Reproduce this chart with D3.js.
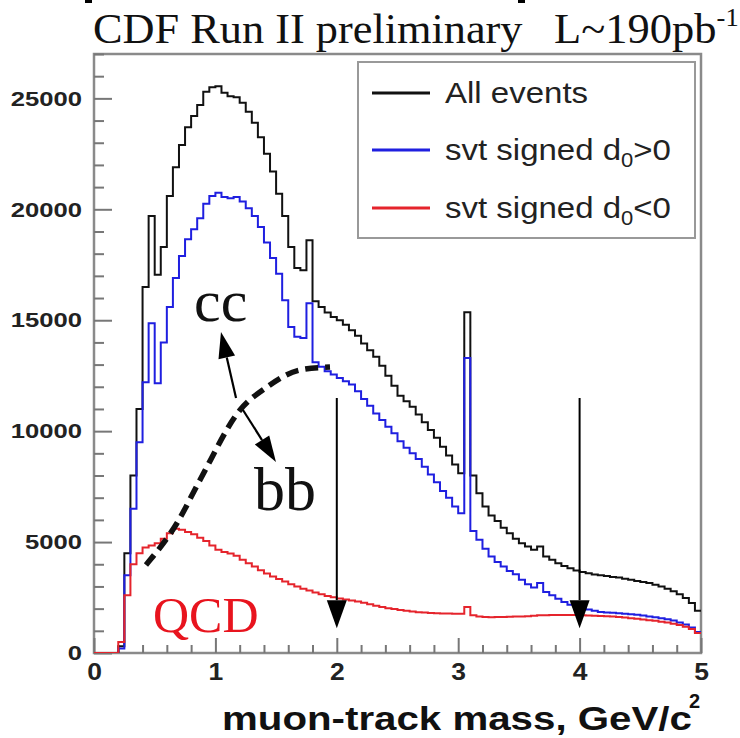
<!DOCTYPE html>
<html><head><meta charset="utf-8">
<script src="https://cdn.jsdelivr.net/npm/d3@7"></script>
<style>
html,body{margin:0;padding:0;background:#fff;}
svg{display:block;}
</style></head>
<body>
<svg id="chart" width="740" height="738"></svg>
<script>
// ---------------- data ----------------
const binStart = 0, binWidth = 0.05;   // GeV/c^2
const allEvents = [
0,0,0,0,300,4500,8000,11000,16500,19700,
17050,18300,20600,21900,22900,23700,24200,24700,25300,25500,
25550,25250,25100,25050,24800,24400,23900,23250,22500,21700,
20700,19700,18300,17350,17250,18600,15850,15600,15350,15150,
15000,14800,14550,14300,13950,13650,13350,12950,12500,12050,
11600,11350,11100,10750,10400,10050,9700,9300,8900,8500,
8100,15360,8000,7200,6600,6200,5950,5650,5400,5150,
4950,4800,4650,4800,4350,4200,4050,3920,3820,3720,
3650,3600,3540,3500,3470,3430,3400,3350,3300,3250,
3200,3150,3080,3000,2900,2780,2650,2480,2250,1900];
const svtPos = [
0,0,0,0,200,3500,6500,9500,12200,14860,
12160,14000,15600,16900,17900,18650,19100,19600,20250,20600,
20750,20550,20500,20550,20350,20050,19700,19200,18500,17800,
17100,15900,14700,14250,14200,15770,13100,12900,12700,12550,
12400,12250,12100,11800,11450,11150,10800,10500,10200,9900,
9550,9250,9000,8750,8400,8050,7700,7300,7000,6600,
6300,13300,5500,5100,4700,4350,4100,3900,3700,3550,
3300,3100,2950,3150,2750,2600,2450,2300,2180,2100,
2030,1960,1900,1850,1830,1810,1790,1770,1750,1720,
1690,1650,1610,1570,1520,1460,1380,1280,1150,950];
const svtNeg = [
0,0,0,0,500,2600,4000,4500,4750,4850,
4950,5150,5400,5600,5550,5450,5350,5200,5050,4850,
4650,4550,4480,4380,4200,4050,3900,3730,3580,3450,
3340,3220,3100,3000,2900,2820,2730,2650,2570,2510,
2460,2410,2370,2320,2270,2200,2130,2070,2020,1980,
1940,1900,1870,1840,1820,1800,1790,1780,1780,1770,
1770,2070,1700,1640,1620,1610,1620,1620,1630,1640,
1650,1660,1680,1700,1700,1710,1710,1710,1710,1710,
1700,1690,1680,1670,1660,1640,1620,1600,1570,1540,
1510,1480,1450,1410,1370,1320,1260,1180,1080,900];
const xTickValues = [0, 1, 2, 3, 4, 5];
const yTickValues = [0, 5000, 10000, 15000, 20000, 25000];
// dashed bb / cc boundary curve (mass, entries)
const boundaryMass = [0.428, 0.684, 0.873, 1.203, 1.425, 1.697, 1.944];
const boundaryVal  = [3967, 5860, 7798, 10953, 11990, 12756, 12891];
// vertical arrows (mass, from, to)
const arrowMass = [2, 4];
const arrowFrom = 11494, arrowTo = 1120;
// annotation arrows cc / bb (mass, entries)
const ccArrow = [[1.170, 11494], [1.046, 14466]];
const bbArrow = [[1.227, 10953], [1.499, 8609]];
const legendLabels = ["All events", "svt signed d", "svt signed d"];

// ---------------- layout ----------------
const W = 740, H = 738;
const P = {left: 94, right: 701, top: 54, bottom: 653};
const x = d3.scaleLinear().domain([0, 5]).range([P.left, P.right]);
const y = d3.scaleLinear().domain([0, 27000]).range([P.bottom, P.top]);
const svg = d3.select("#chart");
svg.append("rect").attr("width", W).attr("height", H).attr("fill", "#fff");

function stretch(sel, f) {
  sel.each(function () {
    const L = this.getComputedTextLength();
    d3.select(this).attr("textLength", L * f).attr("lengthAdjust", "spacingAndGlyphs");
  });
}

// crop marks at top
svg.append("rect").attr("x", 85).attr("y", 0).attr("width", 7).attr("height", 3).attr("fill", "#000");
svg.append("rect").attr("x", 518).attr("y", 0).attr("width", 7).attr("height", 3).attr("fill", "#000");

// title
const serif = "Liberation Serif, Times New Roman, serif";
const sans = "Liberation Sans, Arial, sans-serif";
const title = svg.append("text").attr("x", 93).attr("y", 43)
  .attr("font-family", serif).attr("font-size", 42).attr("fill", "#111")
  .text("CDF Run II preliminary");
stretch(title, 1.055);
const lum = svg.append("text").attr("x", 554).attr("y", 43)
  .attr("font-family", serif).attr("font-size", 42).attr("fill", "#111");
lum.append("tspan").text("L~190pb");
lum.append("tspan").attr("font-size", 25).attr("dy", -17).text("-1");
stretch(lum, 1.06);

// frame
svg.append("rect").attr("x", P.left).attr("y", P.top).attr("width", P.right - P.left).attr("height", P.bottom - P.top)
  .attr("fill", "none").attr("stroke", "#8a8a8a").attr("stroke-width", 2.5);

const tickStyle = g => { g.select(".domain").remove(); g.selectAll("line").attr("stroke", "#777").attr("stroke-width", 2); };
// y minor
const yMinor = d3.range(1000, 27001, 1000).filter(v => v % 5000 !== 0);
svg.append("g").attr("transform", `translate(${P.left},0)`)
  .call(d3.axisLeft(y).tickValues(yMinor).tickSize(-10).tickFormat("")).call(tickStyle);
const yAx = svg.append("g").attr("transform", `translate(${P.left},0)`)
  .call(d3.axisLeft(y).tickValues(yTickValues).tickSize(-18).tickPadding(12).tickFormat(d3.format("d"))).call(tickStyle);
yAx.selectAll("text").attr("font-family", sans).attr("font-weight", "bold")
  .attr("font-size", 21).attr("fill", "#222");
stretch(yAx.selectAll("text"), 1.22);
// x minor
const xMinor = d3.range(0, 5.001, 0.2).filter(v => Math.abs(v - Math.round(v)) > 1e-6);
svg.append("g").attr("transform", `translate(0,${P.bottom})`)
  .call(d3.axisBottom(x).tickValues(xMinor).tickSize(-8).tickFormat("")).call(tickStyle);
const xAx = svg.append("g").attr("transform", `translate(0,${P.bottom})`)
  .call(d3.axisBottom(x).tickValues(xTickValues).tickSize(-15).tickPadding(11).tickFormat(d3.format("d"))).call(tickStyle);
xAx.selectAll("text").attr("font-family", sans).attr("font-weight", "bold")
  .attr("font-size", 23).attr("fill", "#222");
stretch(xAx.selectAll("text"), 1.15);

// axis title
const xt = svg.append("text").attr("x", 222).attr("y", 730)
  .attr("font-family", sans).attr("font-weight", "bold").attr("font-size", 33).attr("fill", "#111")
  .text("muon-track mass, GeV/c");
stretch(xt, 1.22);
svg.append("text").attr("x", 689).attr("y", 708)
  .attr("font-family", sans).attr("font-weight", "bold").attr("font-size", 20).attr("fill", "#111").text("2");

// clip
svg.append("clipPath").attr("id", "clip").append("rect")
  .attr("x", P.left).attr("y", P.top).attr("width", P.right - P.left).attr("height", P.bottom - P.top);
const plotG = svg.append("g").attr("clip-path", "url(#clip)");

function stepPts(vals) {
  const pts = vals.map((v, i) => [binStart + i * binWidth, v]);
  pts.push([binStart + vals.length * binWidth, vals[vals.length - 1]]);
  return pts;
}
const stepLine = d3.line().x(d => x(d[0])).y(d => y(d[1])).curve(d3.curveStepAfter);
const series = [
  {vals: allEvents, color: "#111111"},
  {vals: svtPos, color: "#1f1fe0"},
  {vals: svtNeg, color: "#e5242c"}
];
series.forEach(s => {
  plotG.append("path").attr("d", stepLine(stepPts(s.vals))).attr("fill", "none")
    .attr("stroke", s.color).attr("stroke-width", 2).attr("stroke-linejoin", "miter");
});

// dashed boundary curve
const bPts = boundaryMass.map((m, i) => [m, boundaryVal[i]]);
plotG.append("path").attr("d", d3.line().x(d => x(d[0])).y(d => y(d[1])).curve(d3.curveMonotoneX)(bPts))
  .attr("fill", "none").attr("stroke", "#111").attr("stroke-width", 5.5).attr("stroke-dasharray", "13,7");

// arrows helper
function arrow(g, x1, y1, x2, y2, hl, hw, sw) {
  const dx = x2 - x1, dy = y2 - y1, L = Math.hypot(dx, dy);
  const ux = dx / L, uy = dy / L;
  const bx = x2 - ux * hl, by = y2 - uy * hl;
  g.append("line").attr("x1", x1).attr("y1", y1).attr("x2", bx).attr("y2", by)
    .attr("stroke", "#000").attr("stroke-width", sw);
  g.append("path").attr("d", `M${x2},${y2}L${bx - uy * hw / 2},${by + ux * hw / 2}L${bx + uy * hw / 2},${by - ux * hw / 2}Z`)
    .attr("fill", "#000");
}
arrowMass.forEach(m => arrow(svg, x(m), y(arrowFrom), x(m), y(arrowTo), 28, 20, 2));
arrow(svg, x(ccArrow[0][0]), y(ccArrow[0][1]), x(ccArrow[1][0]), y(ccArrow[1][1]), 26, 17, 2.2);
arrow(svg, x(bbArrow[0][0]), y(bbArrow[0][1]), x(bbArrow[1][0]), y(bbArrow[1][1]), 26, 17, 2.2);

// annotation texts
svg.append("text").attr("x", 194).attr("y", 321).attr("font-family", serif).attr("font-size", 60).attr("fill", "#111").text("cc");
svg.append("text").attr("x", 254).attr("y", 510).attr("font-family", serif).attr("font-size", 62).attr("fill", "#111").text("bb");
svg.append("text").attr("x", 153).attr("y", 632).attr("font-family", serif).attr("font-size", 50).attr("fill", "#e8141e").text("QCD");

// legend
const lg = svg.append("g");
lg.append("rect").attr("x", 358).attr("y", 62).attr("width", 337).attr("height", 176)
  .attr("fill", "#fff").attr("stroke", "#999").attr("stroke-width", 2);
const legYs = [93, 150, 208];
series.forEach((s, i) => {
  lg.append("line").attr("x1", 372).attr("x2", 430).attr("y1", legYs[i]).attr("y2", legYs[i])
    .attr("stroke", s.color).attr("stroke-width", 3);
  const t = lg.append("text").attr("x", 445).attr("y", legYs[i] + 10).attr("font-family", sans)
    .attr("font-size", 30).attr("fill", "#222");
  t.append("tspan").text(legendLabels[i]);
  if (i > 0) {
    t.append("tspan").attr("font-size", 20).attr("dy", 7).text("0");
    t.append("tspan").attr("dy", -7).text(i === 1 ? ">0" : "<0");
  }
  stretch(t, 1.1);
});
</script>
</body></html>
